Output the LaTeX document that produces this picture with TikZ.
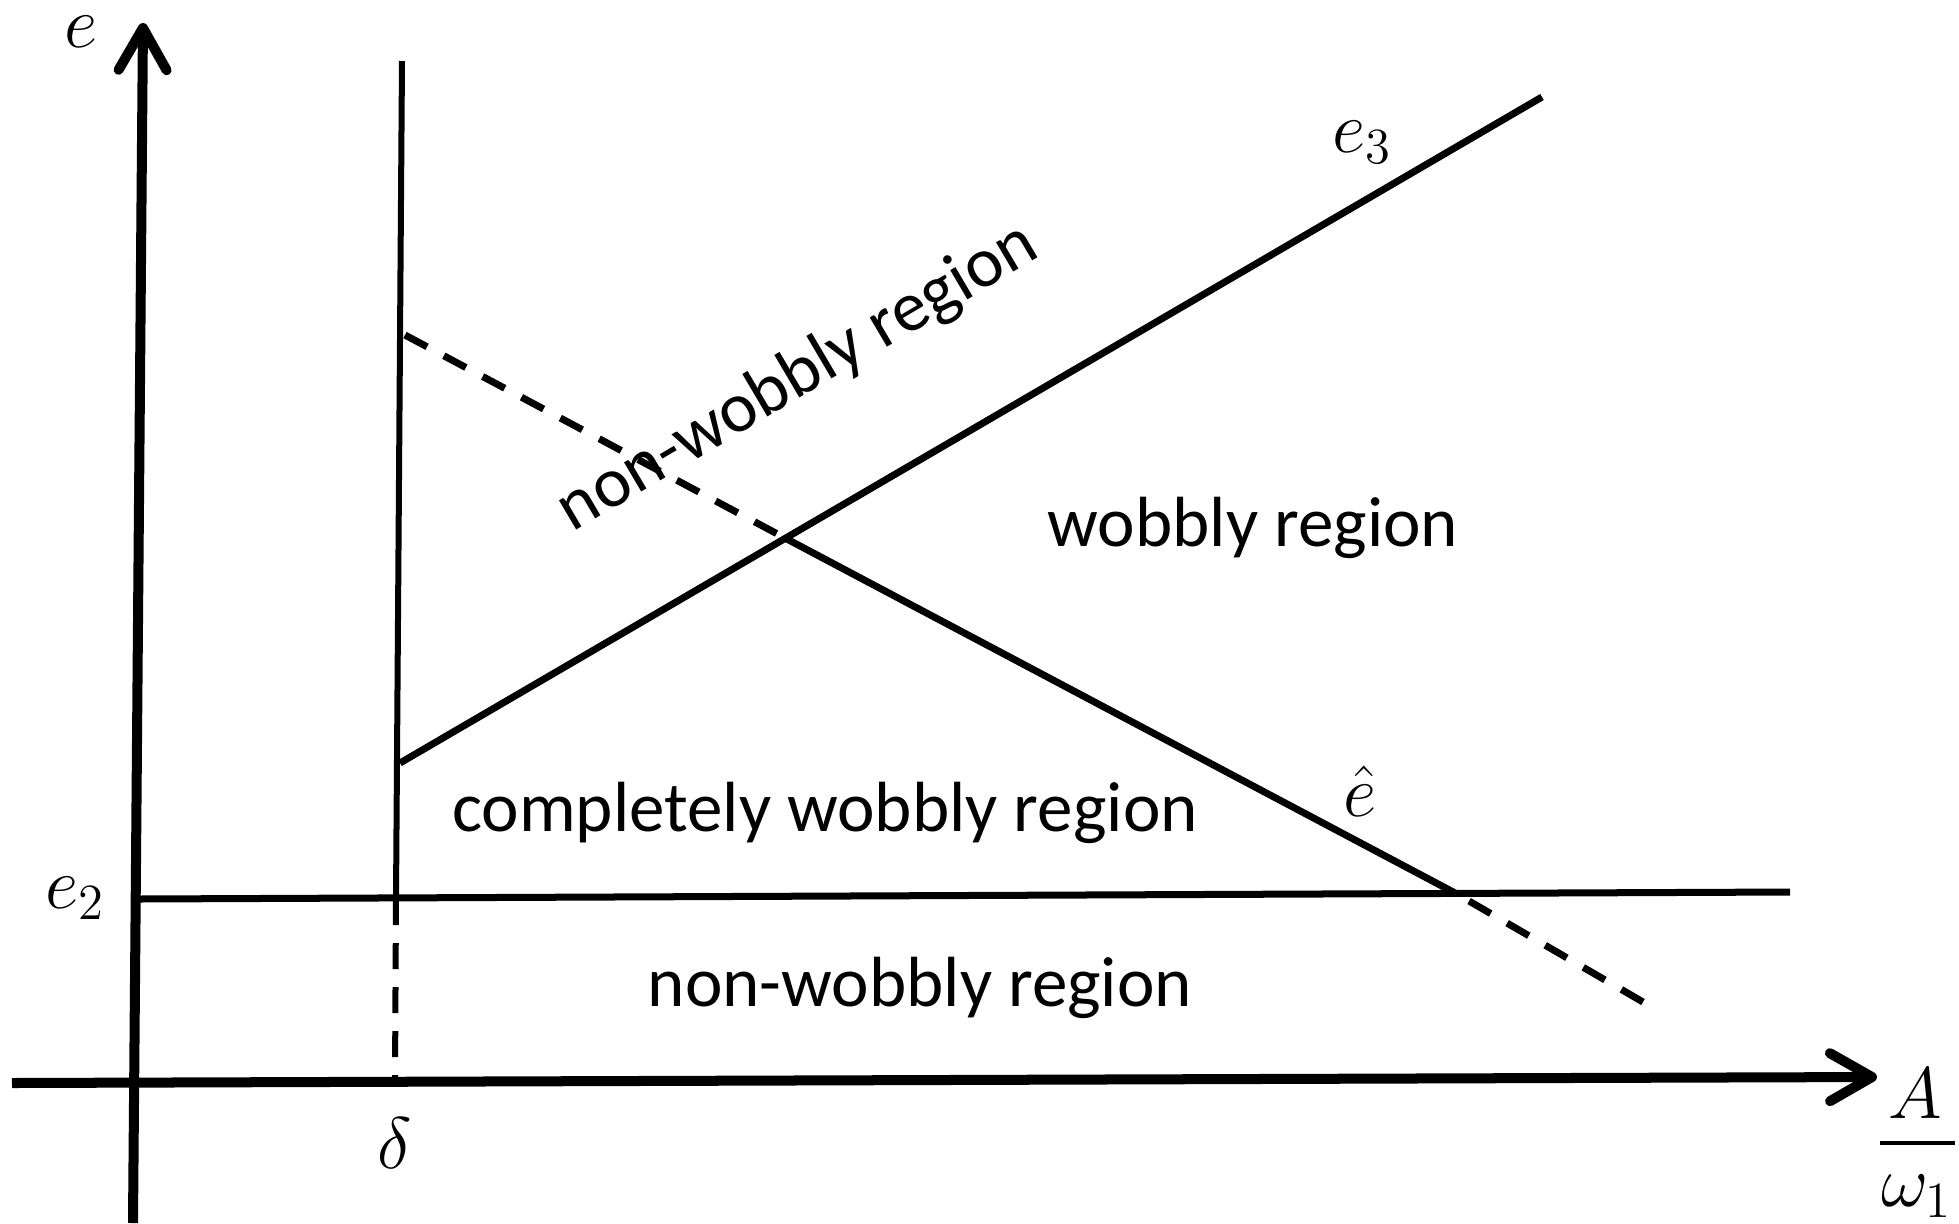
\documentclass[tikz,border=0pt]{standalone}
\usepackage{fontspec}
\setmainfont{Carlito}
\usetikzlibrary{arrows.meta}
\begin{document}
\begin{tikzpicture}[x=0.01cm,y=-0.01cm,
  axisline/.style={line width=0.1cm, line cap=butt, -{Straight Barb[length=0.42cm,width=0.48cm,round]}},
  boundline/.style={line width=0.07cm},
  dashline/.style={line width=0.07cm, dash pattern=on 0.25cm off 0.19cm},
  region/.style={font=\fontsize{20.2}{24}\selectfont, inner sep=0pt},
  mlabel/.style={font=\fontsize{22}{26}\selectfont, inner sep=0pt}]
\useasboundingbox (0,0) rectangle (1959,1223);
% coordinates
\coordinate (ybot) at (133,1223);
\coordinate (ytop) at (143,23);
\coordinate (xleft) at (12,1083);
\coordinate (xright) at (1877,1077);
\coordinate (dtop) at (402,61);
\coordinate (de2) at (396,899);
\coordinate (dax) at (395,1081);
\coordinate (e2l) at (138,899);
\coordinate (e2r) at (1790,892);
\coordinate (e3a) at (400,763);
\coordinate (e3b) at (1542,97);
\coordinate (ha) at (405,335);
\coordinate (hx) at (785,538);
\coordinate (hy) at (1457,894);
\coordinate (hz) at (1643,1002);
\coordinate (fbl) at (1880,1143);
\coordinate (fbr) at (1955,1143);
% axes
\draw[axisline] (ybot) -- (ytop);
\draw[axisline] (xleft) -- (xright);
% delta line
\draw[line width=0.06cm] (dtop) -- (de2);
\draw[line width=0.06cm, dash pattern=on 0.26cm off 0.18cm] (de2) -- (dax);
% e2 line
\draw[boundline] (e2l) -- (e2r);
% e3 line
\draw[boundline] (e3a) -- (e3b);
% e-hat line
\draw[dashline] (ha) -- (hx);
\draw[boundline] (hx) -- (hy);
\draw[dashline] (hz) -- (hy);
% labels
\node[mlabel] (le) at (81,32) {$e$};
\node[mlabel] (le2) at (75,898) {$e_2$};
\node[mlabel] (ldelta) at (395,1143) {$\delta$};
\node[mlabel] (le3) at (1362,142) {$e_3$};
\node[mlabel] (lhat) at (1360,791) {$\hat{e}$};
\node[mlabel] (lA) at (1915,1094) {$A$};
\node[mlabel] (lw) at (1917,1196) {$\omega_1$};
\draw[line width=0.04cm] (fbl) -- (fbr);
% region texts
\node[region, anchor=base] (r1) at (1253,546) {wobbly region};
\node[region, anchor=base] (r2) at (825,831) {completely wobbly region};
\node[region, anchor=base] (r3) at (920,1006) {non-wobbly region};
\node[region, rotate=30.5] (r4) at (798,378) {non-wobbly region};
\end{tikzpicture}
\end{document}
